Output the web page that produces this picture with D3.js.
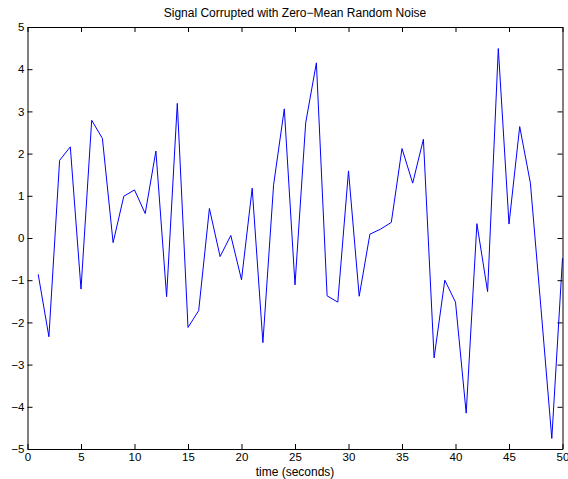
<!DOCTYPE html>
<html>
<head>
<meta charset="utf-8">
<script src="https://cdn.jsdelivr.net/npm/d3@7"></script>
<style>
html,body{margin:0;padding:0;background:#fff;}
svg{display:block;font-family:"Liberation Sans",Arial,Helvetica,sans-serif;}
</style>
</head>
<body>
<svg id="chart" width="568" height="479"></svg>
<script>
const times = d3.range(1, 51);
const signal = [
  -0.86, -2.34, 1.84, 2.16, -1.21, 2.79, 2.36, -0.11, 0.99, 1.14,
  0.58, 2.06, -1.39, 3.19, -2.12, -1.72, 0.70, -0.44, 0.06, -0.99,
  1.18, -2.48, 1.26, 3.06, -1.11, 2.73, 4.15, -1.37, -1.52, 1.59,
  -1.38, 0.09, 0.21, 0.37, 2.12, 1.30, 2.34, -2.84, -1.00, -1.52,
  -4.15, 0.34, -1.27, 4.49, 0.33, 2.64, 1.30, -1.70, -4.75, -0.48
];
const xTicks = [0, 5, 10, 15, 20, 25, 30, 35, 40, 45, 50];
const yTicks = [-5, -4, -3, -2, -1, 0, 1, 2, 3, 4, 5];
const titleText = "Signal Corrupted with Zero\u2212Mean Random Noise";
const xLabelText = "time (seconds)";

const svg = d3.select("#chart");
const L = 27.5, R = 562.5, T = 27, B = 449;
const x = d3.scaleLinear().domain([0, 50]).range([L, R]);
const y = d3.scaleLinear().domain([-5, 5]).range([B, T]);
const fmt = d => String(d).replace("-", "\u2212");

const plot = svg.append("g");
plot.append("path")
  .datum(times.map((t, i) => [t, signal[i]]))
  .attr("fill", "none")
  .attr("stroke", "#0000ff")
  .attr("stroke-width", 1)
  .attr("d", d3.line().x(d => x(d[0])).y(d => y(d[1])));

const tickLen = 5;
function styleAxis(g) {
  g.select(".domain").attr("stroke", "#000").attr("stroke-width", 1);
  g.selectAll(".tick line").attr("stroke", "#000").attr("stroke-width", 1);
  g.selectAll(".tick text").attr("fill", "#000").style("font-size", "11.5px");
}
svg.append("g").attr("transform", `translate(0,${B})`)
  .call(d3.axisBottom(x).tickValues(xTicks).tickFormat(fmt).tickSizeInner(-tickLen).tickSizeOuter(0).tickPadding(4))
  .call(styleAxis);
svg.append("g").attr("transform", `translate(${L},0)`)
  .call(d3.axisLeft(y).tickValues(yTicks).tickFormat(fmt).tickSizeInner(-tickLen).tickSizeOuter(0).tickPadding(3))
  .call(styleAxis);
svg.append("g").attr("transform", `translate(0,${T})`)
  .call(d3.axisTop(x).tickValues(xTicks).tickFormat("").tickSizeInner(-tickLen).tickSizeOuter(0))
  .call(styleAxis);
svg.append("g").attr("transform", `translate(${R},0)`)
  .call(d3.axisRight(y).tickValues(yTicks).tickFormat("").tickSizeInner(-tickLen).tickSizeOuter(0))
  .call(styleAxis);

svg.append("text")
  .attr("x", (L + R) / 2).attr("y", 17)
  .attr("text-anchor", "middle")
  .style("font-size", "12px")
  .text(titleText);
svg.append("text")
  .attr("x", (L + R) / 2).attr("y", 476)
  .attr("text-anchor", "middle")
  .style("font-size", "12px")
  .text(xLabelText);
</script>
</body>
</html>
